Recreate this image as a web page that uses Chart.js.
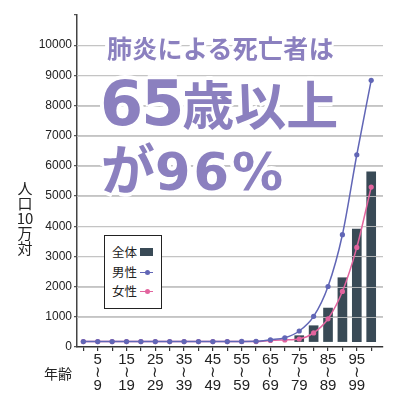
<!DOCTYPE html>
<html>
<head>
<meta charset="utf-8">
<script src="https://cdn.jsdelivr.net/npm/chart.js@4.4.1/dist/chart.umd.min.js"></script>
<style>
html,body{margin:0;padding:0;background:#fff;}
#wrap{position:relative;width:400px;height:400px;overflow:hidden;}
#wrap canvas{position:absolute;left:0;top:0;}
.ov{position:absolute;white-space:nowrap;}
.title{color:#8b80bf;font-weight:bold;line-height:1;
 text-shadow:-3px 0 #fff,3px 0 #fff,0 -3px #fff,0 3px #fff,-2px -2px #fff,2px -2px #fff,-2px 2px #fff,2px 2px #fff,-4px 0 #fff,4px 0 #fff,0 4px #fff,0 -4px #fff;}
.jp{font-family:"Noto Sans CJK JP",sans-serif;}
.num{font-family:"DejaVu Sans",sans-serif;}
#t1{left:107px;top:35px;font-size:25px;letter-spacing:0.3px;}
#t2{left:100px;top:73px;}
#t2 .num{font-size:62px;letter-spacing:-2px;}
#t2 .jp{font-size:52px;letter-spacing:0px;}
#t3{left:101px;top:140px;}
#t3 .jp{font-size:54px;}
#t3 .num{font-size:51px;letter-spacing:3px;}
#ytitle{left:11px;top:180px;width:28px;text-align:center;font-family:"Noto Sans CJK JP",sans-serif;font-size:15px;line-height:15px;color:#222;white-space:normal;}
#xtitle{left:44px;top:364px;font-family:"Noto Sans CJK JP",sans-serif;font-size:14px;line-height:18px;color:#222;}
#legend{left:104px;top:235px;width:56px;height:72px;border:1.5px solid #222;background:#fff;font-family:"Noto Sans CJK JP",sans-serif;font-size:12.5px;color:#222;}
.li{position:absolute;left:7px;height:18px;line-height:18px;}
.sw{position:absolute;left:35px;}
.sw.bar{width:13px;height:8px;background:#394a56;top:5px;}
.sw.line{width:13px;height:1.5px;top:8.5px;}
.sw.line i{position:absolute;left:4.5px;top:-1.75px;width:5px;height:5px;border-radius:50%;}
</style>
</head>
<body>
<div id="wrap">
<canvas id="c"></canvas>
<div class="ov title jp" id="t1">肺炎による死亡者は</div>
<div class="ov title" id="t2"><span class="num">65</span><span class="jp">歳以上</span></div>
<div class="ov title" id="t3"><span class="jp">が</span><span class="num">96%</span></div>
<div class="ov" id="ytitle">人<br>口<br>10<br>万<br>対</div>
<div class="ov" id="xtitle">年齢</div>
<div class="ov" id="legend">
  <div class="li" style="top:7px">全体</div><div class="sw bar" style="top:12px"></div>
  <div class="li" style="top:27px">男性</div><div class="sw line" style="top:35.5px;background:#6166b6"><i style="background:#6166b6"></i></div>
  <div class="li" style="top:46px">女性</div><div class="sw line" style="top:54.5px;background:#e2649e"><i style="background:#e2649e"></i></div>
</div>
</div>
<script>
// Age groups (5-year bands, last is 100+)
const ageGroups = ['0-4','5-9','10-14','15-19','20-24','25-29','30-34','35-39','40-44','45-49',
  '50-54','55-59','60-64','65-69','70-74','75-79','80-84','85-89','90-94','95-99','100-'];
// Axis tick labels (shown on alternate bands, stacked vertically)
const xTickLabels = ['', ['5','≀','9'], '', ['15','≀','19'], '', ['25','≀','29'], '', ['35','≀','39'],
  '', ['45','≀','49'], '', ['55','≀','59'], '', ['65','≀','69'], '', ['75','≀','79'], '', ['85','≀','89'],
  '', ['95','≀','99'], ''];
// Death rate per 100,000
const totalRate  = [null,null,null,null,null,null,null,null,null,null,null,null,null,null,null,375,705,1290,2295,3905,5805];
const maleRate   = [180,180,180,180,180,180,180,180,180,180,180,185,190,240,305,530,1015,2005,3720,6370,8835];
const femaleRate = [180,180,180,180,180,180,180,180,180,180,180,180,180,215,235,265,465,935,1840,3300,5300];
const barFloor = 180;
const yMax = 11000;
const yStep = 1000;

const toXY = arr => arr.map((v,i) => ({x:i, y:v}));

const GRID = '#c4c4c4';
const gridOverBars = {
  id:'gridOverBars',
  afterDatasetDraw(chart, args){
    if (args.meta.type !== 'bar') return;
    const {ctx, chartArea, scales:{y}} = chart;
    ctx.save();
    ctx.strokeStyle = 'rgba(196,196,196,0.85)';
    ctx.lineWidth = 1.2;
    y.ticks.forEach(t => {
      if (t.value <= 0 || t.value >= yMax) return;
      const py = Math.round(y.getPixelForValue(t.value)) + 0.5;
      ctx.beginPath(); ctx.moveTo(chartArea.left, py); ctx.lineTo(chartArea.right, py); ctx.stroke();
    });
    ctx.restore();
  }
};

new Chart(document.getElementById('c'), {
  data:{
    datasets:[
      {type:'line', label:'男性', data:toXY(maleRate), borderColor:'#6166b6', backgroundColor:'#6166b6',
       borderWidth:1.5, pointRadius:2.6, pointBorderWidth:0, cubicInterpolationMode:'monotone', order:0},
      {type:'line', label:'女性', data:toXY(femaleRate), borderColor:'#e2649e', backgroundColor:'#e2649e',
       borderWidth:1.5, pointRadius:2.6, pointBorderWidth:0, cubicInterpolationMode:'monotone', order:1},
      {type:'bar', label:'全体', data:toXY(totalRate), backgroundColor:'#394a56', base:barFloor,
       barThickness:9, order:2}
    ]
  },
  options:{
    responsive:true, maintainAspectRatio:false, animation:false,
    layout:{padding:{top:15, right:17, left:0, bottom:0}},
    plugins:{legend:{display:false}, tooltip:{enabled:false}},
    scales:{
      x:{type:'linear', min:-0.44, max:20.82, offset:false,
        afterBuildTicks: s => { s.ticks = ageGroups.map((g,i)=>({value:i})); },
        afterFit: s => { s.height = 53; },
        ticks:{autoSkip:false, maxRotation:0, padding:2, color:'#222',
          font:{family:'"Liberation Sans Narrow","Liberation Sans",sans-serif', size:15, lineHeight:'13px'},
          callback:(v,i)=> xTickLabels[i]},
        grid:{offset:false, drawOnChartArea:false, drawTicks:true, tickLength:4, color:'#333', lineWidth:1.2},
        border:{display:true, color:'#333', width:1.5}
      },
      y:{min:0, max:yMax,
        afterFit: s => { s.width = 77; },
        ticks:{stepSize:yStep, padding:2, color:'#222',
          font:{family:'"Liberation Sans",Arial,sans-serif', size:12},
          callback:v => v >= yMax ? '' : String(v)},
        grid:{color: c => (c.tick && (c.tick.value === 0 || c.tick.value >= yMax)) ? 'rgba(0,0,0,0)' : GRID,
          lineWidth:1.2, tickLength:3, tickColor:'#555', drawTicks:true},
        border:{display:true, color:'#444', width:1.5}
      }
    }
  },
  plugins:[gridOverBars]
});
</script>
</body>
</html>
